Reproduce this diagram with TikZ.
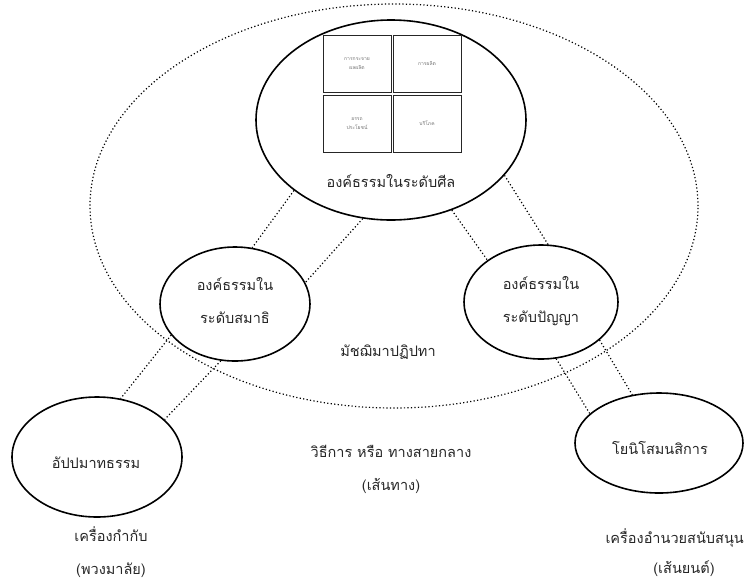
\documentclass[tikz,border=0pt]{standalone}
\usepackage{fontspec}
\setmainfont[Script=Thai]{Loma}
\usetikzlibrary{shapes.geometric}
\begin{document}
\begin{tikzpicture}[x=1pt,y=-1pt,
  oval/.style={draw=black,line width=1.6pt,ellipse,inner sep=0pt},
  cell/.style={draw=black!85,line width=1pt,rectangle,minimum width=68pt,minimum height=57pt,inner sep=0pt,
    font=\fontsize{5}{9}\selectfont,text=black!55,align=center},
  lbl/.style={font=\fontsize{14.5}{33}\selectfont,text=black!85,align=center},
  dots/.style={line width=1.2pt,dash pattern=on 1.2pt off 2.3pt}]
\useasboundingbox (0,0) rectangle (744,582);
% big dotted ellipse
\node[draw,dots,ellipse,minimum width=608pt,minimum height=404pt,inner sep=0pt] (mid) at (394,206) {};
% ellipses
\node[oval,minimum width=270pt,minimum height=200pt] (sila) at (391,120) {};
\node[oval,minimum width=150pt,minimum height=114pt] (samadhi) at (235,304) {};
\node[oval,minimum width=154pt,minimum height=114pt] (panya) at (541,302) {};
\node[oval,minimum width=170pt,minimum height=120pt] (appa) at (97,457) {};
\node[oval,minimum width=168pt,minimum height=100pt] (yoni) at (659,443) {};
% boxes
\node[cell] (b1) at (357,64) {การกระจาย\\ผลผลิต};
\node[cell] (b2) at (427,64) {การผลิต};
\node[cell] (b3) at (357,123.5) {อรรถ\\ประโยชน์};
\node[cell] (b4) at (427,123.5) {บริโภค};
% labels
\node[lbl] (tsila) at (391,181) {องค์ธรรมในระดับศีล};
\node[lbl] (tsam) at (235,301) {องค์ธรรมใน\\ระดับสมาธิ};
\node[lbl] (tpan) at (541,301) {องค์ธรรมใน\\ระดับปัญญา};
\node[lbl] (tmid) at (388,352) {มัชฌิมาปฏิปทา};
\node[lbl] (tway) at (391,469) {วิธีการ หรือ ทางสายกลาง\\(เส้นทาง)};
\node[lbl] (tappa) at (96,463) {อัปปมาทธรรม};
\node[lbl] (tyoni) at (660,448) {โยนิโสมนสิการ};
\node[lbl] (treg) at (111,552) {เครื่องกำกับ\\(พวงมาลัย)};
\node[lbl,anchor=west] (tsup) at (602,538) {เครื่องอำนวยสนับสนุน};
\node[lbl] (tsup2) at (684,569) {(เส้นยนต์)};
% dotted connectors
\draw[dots] (sila.216) -- (samadhi.73);
\draw[dots] (sila.254.7) -- (samadhi.17);
\draw[dots] (sila.304.4) -- (panya.142.3);
\draw[dots] (sila.334.7) -- (panya.83);
\draw[dots] (samadhi.206.9) -- (appa.68.4);
\draw[dots] (samadhi.256.9) -- (appa.29.9);
\draw[dots] (panya.285) -- (yoni.157.2);
\draw[dots] (panya.327) -- (yoni.119.6);
\end{tikzpicture}
\end{document}
